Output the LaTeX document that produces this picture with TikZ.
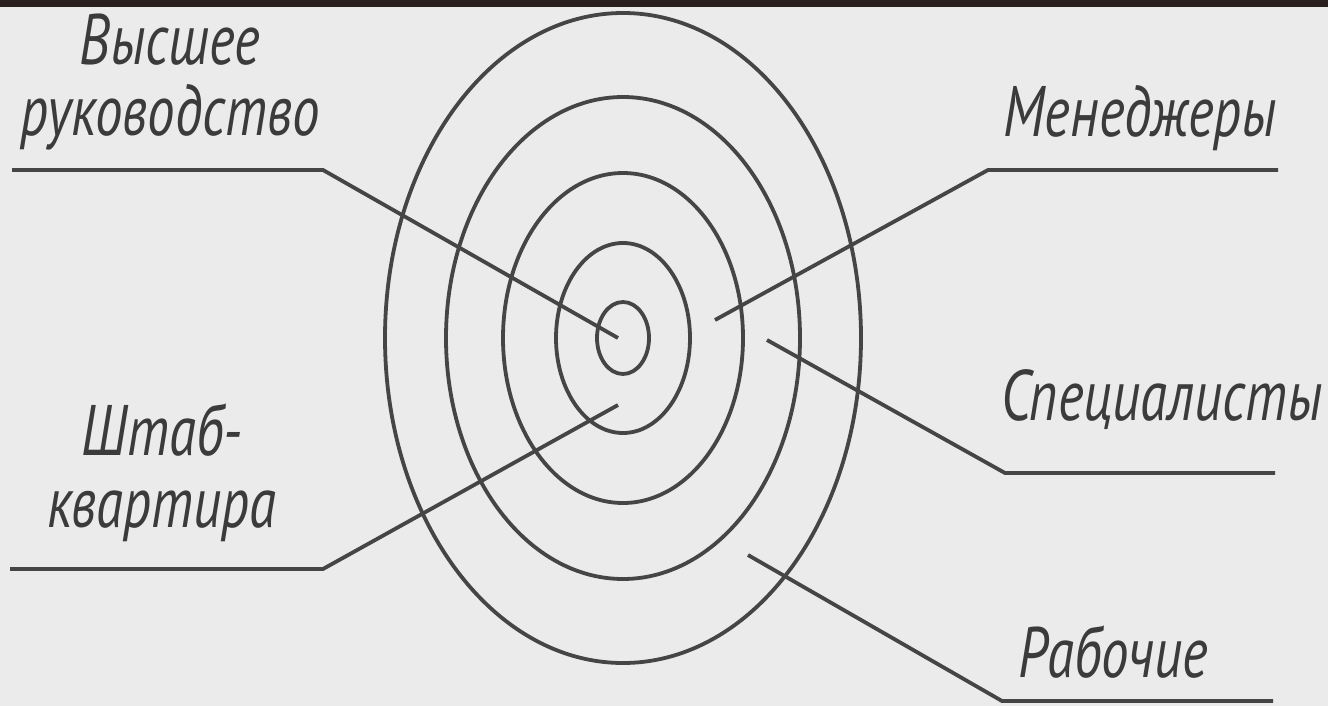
\documentclass[tikz,border=0pt]{standalone}
\usepackage{fontspec}
\setmainfont{PT Sans}
\usetikzlibrary{positioning}
\definecolor{paper}{HTML}{EBEBEB}
\definecolor{ink}{HTML}{454545}
\definecolor{band}{HTML}{2A2020}
\tikzset{
    ring/.style={
        draw=ink,
        line width=1.9pt
    },
    leader/.style={
        draw=ink,
        line width=1.9pt
    },
    tag/.style={
        font=\itshape\fontsize{27.5}{32}\selectfont,
        text=ink!85!black,
        inner sep=0pt,
        yscale=1.3,
        anchor=base
    }
}

\begin{document}
\begin{tikzpicture}[x=0.5pt, y=-0.5pt]

\fill[paper] (0,0) rectangle (1328,706);
\useasboundingbox (0,0) rectangle (1328,706);
\fill[band] (0,0) rectangle (1328,7);

%---------------- Rings ----------------

\coordinate (c) at (623,338);
\draw[ring] (c) ellipse [x radius=26, y radius=36];
\draw[ring] (c) ellipse [x radius=67, y radius=95];
\draw[ring] (c) ellipse [x radius=120, y radius=165];
\draw[ring] (c) ellipse [x radius=177, y radius=241];
\draw[ring] (c) ellipse [x radius=238, y radius=325];

%---------------- Left labels ----------------

\node[tag] (vys) at (170,65) {Высшее};
\node[tag] (ruk) at (170,135) {руководство};

\coordinate (ruk-a) at (12,170);
\coordinate (ruk-b) at (323,170);
\coordinate (ruk-c) at (618,338);
\draw[leader] (ruk-a) -- (ruk-b) -- (ruk-c);

\node[tag] (sht) at (162,455) {Штаб-};
\node[tag] (kva) at (162,527) {квартира};

\coordinate (kva-a) at (10,569);
\coordinate (kva-b) at (323,569);
\coordinate (kva-c) at (618,405);
\draw[leader] (kva-a) -- (kva-b) -- (kva-c);

%---------------- Right labels ----------------

\node[tag] (men) at (1140,137) {Менеджеры};

\coordinate (men-a) at (1278,170);
\coordinate (men-b) at (988,170);
\coordinate (men-c) at (715,320);
\draw[leader] (men-a) -- (men-b) -- (men-c);

\node[tag] (spe) at (1162,420) {Специалисты};

\coordinate (spe-a) at (1275,473);
\coordinate (spe-b) at (1005,473);
\coordinate (spe-c) at (767,340);
\draw[leader] (spe-a) -- (spe-b) -- (spe-c);

\node[tag] (rab) at (1113,677) {Рабочие};

\coordinate (rab-a) at (1273,701);
\coordinate (rab-b) at (1002,701);
\coordinate (rab-c) at (748,555);
\draw[leader] (rab-a) -- (rab-b) -- (rab-c);

\end{tikzpicture}
\end{document}
